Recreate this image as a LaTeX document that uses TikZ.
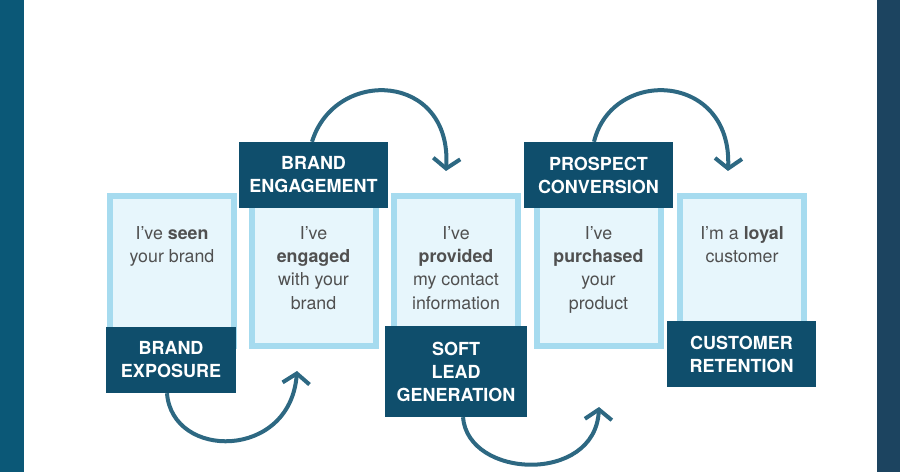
\documentclass[tikz,border=0pt]{standalone}
\usepackage{xcolor}
\usepackage{fontspec}
\setmainfont{TeX Gyre Heros}
\usepackage{tikz}
\usetikzlibrary{calc, arrows.meta, positioning}

\definecolor{navy}{HTML}{0F4E6C}
\definecolor{skyline}{HTML}{A6DBEF}
\definecolor{skyfill}{HTML}{E7F6FC}
\definecolor{curve}{HTML}{2D6882}
\definecolor{ink}{HTML}{505050}
\definecolor{bandl}{HTML}{0B5877}
\definecolor{bandr}{HTML}{1C4460}

\begin{document}
\begin{tikzpicture}[x=1pt, y=1pt, >=latex]
		\tikzstyle{stage} = [draw=skyline, fill=skyfill, line width=6pt, minimum width=124pt, minimum height=150pt, inner sep=0pt]
		\tikzstyle{says} = [anchor=north, align=center, text=ink, inner sep=0pt, font=\fontsize{17.8}{23.3}\selectfont]
		\tikzstyle{tag} = [fill=navy, text=white, align=center, inner sep=0pt, minimum height=66pt, font=\fontsize{18}{23}\selectfont\bfseries]
		\tikzstyle{hop} = [draw=curve, line width=4pt, -{Straight Barb[length=10pt,width=27pt]}]
		
		\useasboundingbox (0,0) rectangle (900,472);
		\fill[bandl] (0,0) rectangle (24,472);
		\fill[bandr] (877,0) rectangle (900,472);
		
		% the five stages
		\node[stage] 	at (172, 201)		(seen) 		{};
		\node[stage] 	at (313.5, 201)		(engaged) 	{};
		\node[stage] 	at (456, 201)		(provided) 	{};
		\node[stage] 	at (598.5, 201)		(purchased) {};
		\node[stage] 	at (742, 201)		(loyal) 	{};
		
		\node[says] 	at ([yshift=-33]seen.north)			(seentxt) 		{I've \textbf{seen}\\your brand};
		\node[says] 	at ([yshift=-33]engaged.north)		(engagedtxt) 	{I've\\\textbf{engaged}\\with your\\brand};
		\node[says] 	at ([yshift=-33]provided.north)		(providedtxt) 	{I've\\\textbf{provided}\\my contact\\information};
		\node[says] 	at ([yshift=-33]purchased.north)	(purchasedtxt) 	{I've\\\textbf{purchased}\\your\\product};
		\node[says] 	at ([yshift=-33]loyal.north)		(loyaltxt) 		{I'm a \textbf{loyal}\\customer};
		
		% dark labels
		\node[tag, minimum width=130pt] 	at (171, 112)		(expo) 	{BRAND\\EXPOSURE};
		\node[tag, minimum width=149pt] 	at (313.5, 297)		(engage) 	{BRAND\\ENGAGEMENT};
		\node[tag, minimum width=142pt, minimum height=91pt] 	at (456, 100.5)		(soft) 	{SOFT\\LEAD\\GENERATION};
		\node[tag, minimum width=149pt] 	at (598.5, 297)		(pros) 	{PROSPECT\\CONVERSION};
		\node[tag, minimum width=149pt] 	at (741.5, 118)		(ret) 	{CUSTOMER\\RETENTION};
		
		\draw[hop] ([xshift=-4]expo.south) .. controls (172,12) and (290,12) .. ([xshift=-16.5,yshift=-22]engaged.south);
		\draw[hop] ([xshift=-1.5]engage.north) .. controls (335,405) and (452,400) .. ([xshift=-10,yshift=22]provided.north);
		\draw[hop] ([xshift=7]soft.south) .. controls (468,-7) and (595,-12) .. ([xshift=0.5,yshift=-58]purchased.south);
		\draw[hop] ([xshift=-4.5]pros.north) .. controls (612,405) and (732,400) .. ([xshift=-14,yshift=22]loyal.north);
	\end{tikzpicture}
\end{document}
